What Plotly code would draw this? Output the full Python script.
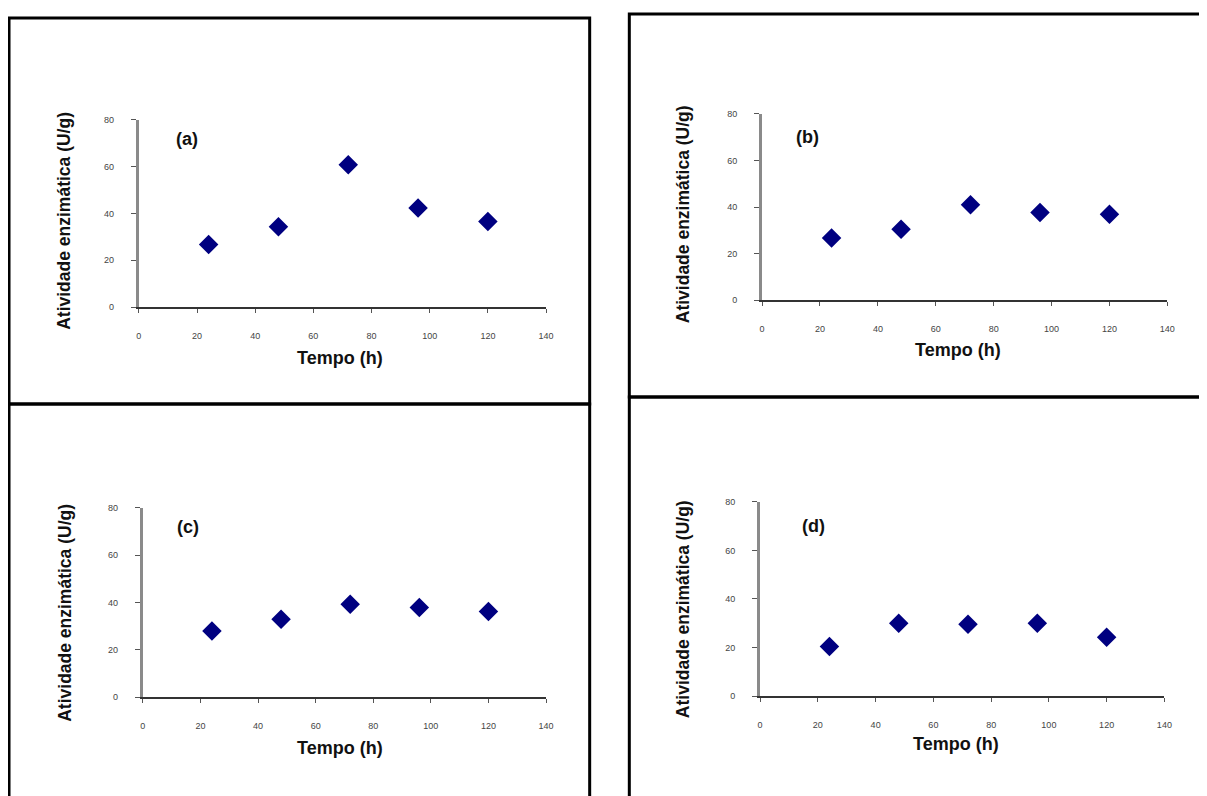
import plotly.graph_objects as go

# page body has an 8px default margin; compensate so the chart lands where the reference has it
OFF = 8
W, H = 1207, 796 - OFF

tempo = [24, 48, 72, 96, 120]
atividade_a = [26.8, 34.3, 60.8, 42.3, 36.6]
atividade_b = [26.7, 30.5, 41.0, 37.7, 36.9]
atividade_c = [27.9, 32.9, 39.2, 37.9, 36.2]
atividade_d = [20.4, 30.0, 29.6, 30.0, 24.3]

x_ticks = [0, 20, 40, 60, 80, 100, 120, 140]
y_ticks = [0, 20, 40, 60, 80]
panel_labels = ["(a)", "(b)", "(c)", "(d)"]
y_title = "Atividade enzimática (U/g)"
x_title = "Tempo (h)"

def px(x):
    return (x - OFF) / W

def py(y):
    return 1 - (y - OFF) / H

# plot areas in pixel coords: (x_left, x_right, y_bottom, y_top)
areas = [
    (137, 548, 306, 116),
    (766, 1175, 299, 110),
    (141, 548, 701, 509),
    (764, 1172, 700, 503),
]
series = [atividade_a, atividade_b, atividade_c, atividade_d]
ytitle_pos = [(62, 219), (687, 212), (63, 615), (687, 612)]
xtitle_pos = [(340, 357), (964, 349), (340, 752), (962, 748)]
label_pos = [(186, 136), (812, 134), (187, 529), (818, 528)]
boxes = [(6, 13, 592, 404), (632, 9, 1230, 397), (6, 404, 592, 810), (632, 397, 1230, 810)]

fig = go.Figure()
font_family = "Liberation Sans, Arial, sans-serif"

for i, (vals, area) in enumerate(zip(series, areas)):
    n = "" if i == 0 else str(i + 1)
    fig.add_trace(go.Scatter(
        x=tempo, y=vals, mode="markers",
        marker=dict(symbol="diamond", size=15, color="#000080", line=dict(width=0)),
        xaxis="x" + n, yaxis="y" + n, showlegend=False,
    ))
    xl, xr, yb, yt = area
    fig.layout["xaxis" + n] = dict(
        domain=[px(xl), px(xr)], range=[0, 140], anchor="y" + n,
        tickvals=x_ticks, ticktext=[str(t) for t in x_ticks],
        showgrid=False, zeroline=False, showline=True, linecolor="#333333", linewidth=2,
        ticks="outside", ticklen=4, tickwidth=1, tickcolor="#555555",
        tickfont=dict(size=9, color="#444444", family=font_family),
        ticklabelstandoff=15, fixedrange=True,
    )
    fig.layout["yaxis" + n] = dict(
        domain=[py(yb), py(yt)], range=[0, 80], anchor="x" + n,
        tickvals=y_ticks, ticktext=[str(t) for t in y_ticks],
        showgrid=False, zeroline=False, showline=True, linecolor="#8a8a8a", linewidth=3,
        ticks="outside", ticklen=5, tickwidth=1, tickcolor="#555555",
        tickfont=dict(size=9, color="#444444", family=font_family),
        ticklabelstandoff=15, fixedrange=True,
    )

annotations = []
for i in range(4):
    x, y = ytitle_pos[i]
    annotations.append(dict(
        x=px(x), y=py(y), xref="paper", yref="paper", text="<b>" + y_title + "</b>",
        textangle=-90, showarrow=False, xanchor="center", yanchor="middle",
        font=dict(size=17.5, color="#111111", family=font_family),
    ))
    x, y = xtitle_pos[i]
    annotations.append(dict(
        x=px(x), y=py(y), xref="paper", yref="paper", text="<b>" + x_title + "</b>",
        showarrow=False, xanchor="center", yanchor="middle",
        font=dict(size=18, color="#111111", family=font_family),
    ))
    x, y = label_pos[i]
    annotations.append(dict(
        x=px(x), y=py(y), xref="paper", yref="paper", text="<b>" + panel_labels[i] + "</b>",
        showarrow=False, xanchor="center", yanchor="middle",
        font=dict(size=18, color="#111111", family=font_family),
    ))

shapes = []
for (x0, y0, x1, y1) in boxes:
    shapes.append(dict(
        type="rect", xref="paper", yref="paper",
        x0=px(x0), x1=px(x1), y0=py(y1), y1=py(y0),
        line=dict(color="black", width=3), fillcolor="rgba(0,0,0,0)", layer="above",
    ))

fig.update_layout(
    width=W, height=H,
    margin=dict(l=0, r=0, t=0, b=0),
    paper_bgcolor="white", plot_bgcolor="white",
    annotations=annotations, shapes=shapes,
    font=dict(family=font_family),
)

fig.write_html("out.html", config={"displayModeBar": False})
